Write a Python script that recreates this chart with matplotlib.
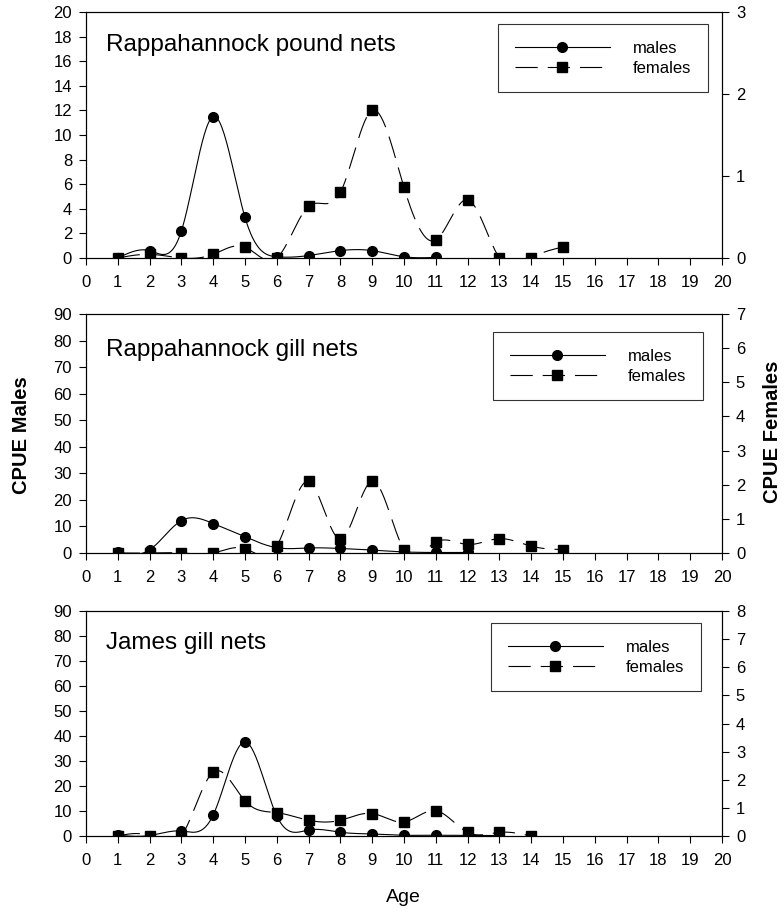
import numpy as np
import matplotlib
matplotlib.use("Agg")
import matplotlib.pyplot as plt
from matplotlib.lines import Line2D

plt.rcParams['font.family'] = ['Liberation Sans', 'DejaVu Sans']

# ages
pound_age_m = [1, 2, 3, 4, 5, 6, 7, 8, 9, 10, 11]
pound_m = [0.0, 0.6, 2.2, 11.5, 3.3, 0.1, 0.2, 0.6, 0.6, 0.1, 0.05]
pound_age_f = [1, 2, 3, 4, 5, 6, 7, 8, 9, 10, 11, 12, 13, 14, 15]
pound_f = [0.0, 0.045, 0.0, 0.045, 0.135, 0.0, 0.63, 0.8, 1.8, 0.86, 0.22, 0.71, 0.0, 0.0, 0.135]

rgill_age_m = [1, 2, 3, 4, 5, 6, 7, 8, 9, 10, 11, 12]
rgill_m = [0.4, 1.2, 12.2, 11.1, 6.1, 2.0, 1.9, 1.7, 1.1, 0.4, 0.2, 0.2]
rgill_age_f = [1, 2, 3, 4, 5, 6, 7, 8, 9, 10, 11, 12, 13, 14, 15]
rgill_f = [0.0, 0.0, 0.0, 0.0, 0.13, 0.2, 2.1, 0.41, 2.1, 0.1, 0.32, 0.25, 0.42, 0.2, 0.1]

james_age_m = [1, 2, 3, 4, 5, 6, 7, 8, 9, 10, 11, 12, 13]
james_m = [0.3, 0.2, 2.0, 8.4, 37.6, 8.0, 2.4, 1.5, 0.8, 0.3, 0.3, 0.2, 0.2]
james_age_f = [1, 2, 3, 4, 5, 6, 7, 8, 9, 10, 11, 12, 13, 14]
james_f = [0.0, 0.0, 0.0, 2.27, 1.25, 0.83, 0.56, 0.56, 0.8, 0.5, 0.9, 0.13, 0.13, 0.0]

titles = ["Rappahannock pound nets", "Rappahannock gill nets", "James gill nets"]
left_max = [20, 90, 90]
left_step = [2, 10, 10]
right_max = [3, 7, 8]


def natural_spline(x, y, n=30):
    """natural cubic spline through the points, just for drawing the curve"""
    x = np.asarray(x, float)
    y = np.asarray(y, float)
    k = len(x)
    h = np.diff(x)
    A = np.zeros((k, k))
    b = np.zeros(k)
    A[0, 0] = 1
    A[-1, -1] = 1
    for i in range(1, k - 1):
        A[i, i - 1] = h[i - 1]
        A[i, i] = 2 * (h[i - 1] + h[i])
        A[i, i + 1] = h[i]
        b[i] = 6 * ((y[i + 1] - y[i]) / h[i] - (y[i] - y[i - 1]) / h[i - 1])
    M = np.linalg.solve(A, b)
    xs, ys = [], []
    for i in range(k - 1):
        t = np.linspace(x[i], x[i + 1], n)
        a = x[i + 1] - t
        c = t - x[i]
        s = (M[i] * a**3 + M[i + 1] * c**3) / (6 * h[i]) \
            + (y[i] / h[i] - M[i] * h[i] / 6) * a \
            + (y[i + 1] / h[i] - M[i + 1] * h[i] / 6) * c
        xs.append(t)
        ys.append(s)
    return np.concatenate(xs), np.concatenate(ys)


fig = plt.figure(figsize=(7.84, 9.15), dpi=100)
W, H = 784, 915
boxes = [(12, 258), (314, 553), (611, 836)]  # top / bottom pixel of each panel
title_y = [0.866, 0.849, 0.858]
leg_anchor = [(0.978, 0.951), (0.970, 0.925), (0.967, 0.947)]
data = [
    (pound_age_m, pound_m, pound_age_f, pound_f),
    (rgill_age_m, rgill_m, rgill_age_f, rgill_f),
    (james_age_m, james_m, james_age_f, james_f),
]
DASH = (20, 9)

for p in range(3):
    top, bot = boxes[p]
    ax = fig.add_axes([86 / W, 1 - bot / H, 636 / W, (bot - top) / H])
    ax2 = ax.twinx()
    am, m, af, f = data[p]

    xs, ys = natural_spline(am, m)
    ax.plot(xs, ys, color='k', lw=0.8)
    ax.plot(am, m, 'o', color='k', ms=7, zorder=5)

    xs, ys = natural_spline(af, f)
    ax2.plot(xs, ys, color='k', lw=0.8, dashes=DASH)
    ax2.plot(af, f, 's', color='k', ms=7.2, zorder=5)

    ax.set_xlim(0, 20)
    ax.set_ylim(0, left_max[p])
    ax2.set_ylim(0, right_max[p])
    ax.set_xticks(range(0, 21))
    ax.set_yticks(np.arange(0, left_max[p] + 1, left_step[p]))
    ax2.set_yticks(range(0, right_max[p] + 1))
    for a in (ax, ax2):
        a.tick_params(direction='out', length=5, width=0.8, labelsize=12, pad=5)
        for s in a.spines.values():
            s.set_linewidth(0.8)
    ax.tick_params(axis='x', pad=7)

    ax.text(0.031, title_y[p], titles[p], transform=ax.transAxes,
            fontsize=17.5, va='center', ha='left')

    handles = [Line2D([], [], color='k', lw=0.8, marker='o', ms=7),
               Line2D([], [], color='k', lw=0.8, marker='s', ms=7.2, dashes=DASH)]
    leg = ax2.legend(handles, ["males", "females"], loc='upper right',
                     bbox_to_anchor=leg_anchor[p], fontsize=12, numpoints=1,
                     handlelength=5.7, handletextpad=1.4, borderpad=1.0,
                     labelspacing=0.3, borderaxespad=0, fancybox=False,
                     frameon=True, edgecolor='k')
    leg.get_frame().set_linewidth(0.8)

fig.text(22 / W, 1 - 435 / H, "CPUE Males", rotation=90, fontsize=14.5,
         fontweight='bold', ha='center', va='center')
fig.text(772 / W, 1 - 432 / H, "CPUE Females", rotation=90, fontsize=14.5,
         fontweight='bold', ha='center', va='center')
fig.text(403 / W, 1 - 898 / H, "Age", fontsize=14, ha='center', va='center')

fig.savefig("out.png", dpi=100)
